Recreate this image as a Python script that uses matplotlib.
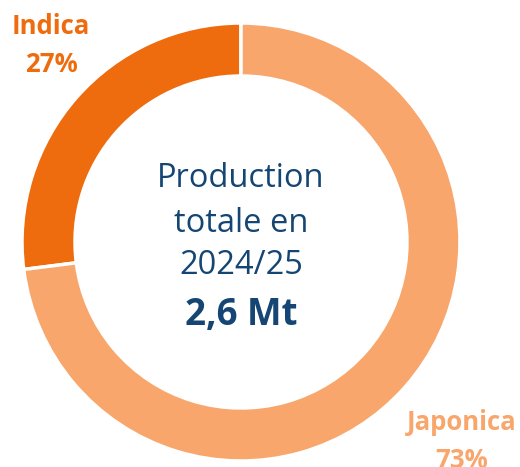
import matplotlib.pyplot as plt

# données
categories = ['Indica', 'Japonica']
parts = [27, 73]
couleurs = ['#EE6C0E', '#F8A66B']

W, H = 520, 467
fig = plt.figure(figsize=(W / 100, H / 100), dpi=100)
ax = fig.add_axes([0, 0, 1, 1])

cx, cy, r = 241, H - 242, 219
ax.pie(parts, colors=couleurs, startangle=90, counterclock=True,
       center=(cx, cy), radius=r, frame=True,
       wedgeprops=dict(width=53, edgecolor='white', linewidth=2.5))
ax.set_xlim(0, W)
ax.set_ylim(0, H)
ax.set_aspect('equal')
ax.axis('off')

police = 'Open Sans'
bleu = '#154673'

# étiquettes des parts
ax.text(51, H - 27, categories[0], color=couleurs[0], fontsize=18.5, fontweight='bold',
        family=police, ha='center', va='center')
ax.text(51, H - 65, f'{parts[0]}%', color=couleurs[0], fontsize=18.5, fontweight='bold',
        family=police, ha='center', va='center')
ax.text(462, H - 423, categories[1], color=couleurs[1], fontsize=18.5, fontweight='bold',
        family=police, ha='center', va='center')
ax.text(462, H - 461, f'{parts[1]}%', color=couleurs[1], fontsize=18.5, fontweight='bold',
        family=police, ha='center', va='center')

# texte central
ax.text(cx, H - 187, 'Production', color=bleu, fontsize=23.5, family=police,
        ha='center', va='baseline')
ax.text(cx, H - 232, 'totale en', color=bleu, fontsize=23.5, family=police,
        ha='center', va='baseline')
ax.text(cx, H - 274, '2024/25', color=bleu, fontsize=23.5, family=police,
        ha='center', va='baseline')
ax.text(cx, H - 325, '2,6 Mt', color=bleu, fontsize=26.5, fontweight='bold', family=police,
        ha='center', va='baseline')

fig.savefig('out.png', dpi=100)
